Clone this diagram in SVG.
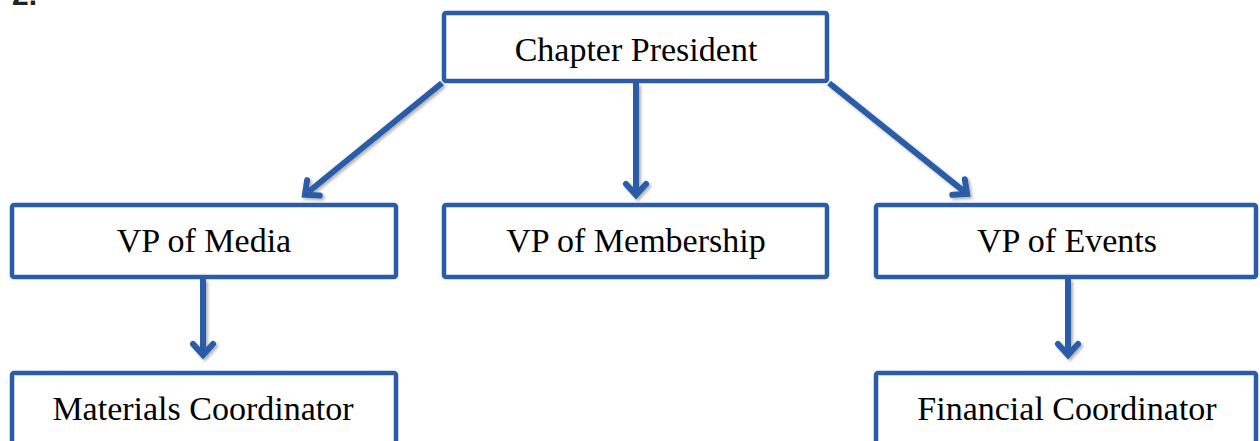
<svg xmlns="http://www.w3.org/2000/svg" width="1260" height="441" viewBox="0 0 1260 441">
  <style>
    .box { fill: #ffffff; stroke: #2a5ca7; stroke-width: 4.5; }
    .label { font-family: "Liberation Serif", "Times New Roman", serif; font-size: 34px; fill: #000000; text-anchor: middle; }
    .num { font-family: "Liberation Sans", Arial, sans-serif; font-size: 30px; font-weight: bold; fill: #222222; }
    .link { stroke: #2a5ca7; stroke-width: 6; fill: none; marker-end: url(#chevron); }
  </style>
  <defs>
    <marker id="chevron" markerUnits="userSpaceOnUse" viewBox="-20 -16 30 32" refX="0" refY="0"
            markerWidth="30" markerHeight="32" orient="auto" overflow="visible">
      <path d="M-11,-10 L0,0 L-11,10" fill="none" stroke="#2a5ca7" stroke-width="6"
            stroke-linecap="round" stroke-linejoin="miter"/>
    </marker>
    <filter id="soft" x="-20%" y="-20%" width="140%" height="140%">
      <feDropShadow dx="2" dy="2" stdDeviation="1.5" flood-color="#000000" flood-opacity="0.3"/>
    </filter>
  </defs>

  <rect width="1260" height="441" fill="#ffffff"/>

  <text class="num" x="12" y="5">2.</text>

  <!-- connectors -->
  <g id="connectors" filter="url(#soft)">
    <line class="link" x1="442" y1="83" x2="304.9" y2="194.8"/>
    <line class="link" x1="636" y1="83" x2="636" y2="195"/>
    <line class="link" x1="829" y1="83" x2="967.1" y2="193.9"/>
    <line class="link" x1="203" y1="279" x2="203" y2="355"/>
    <line class="link" x1="1068" y1="279" x2="1068" y2="355"/>
  </g>

  <g id="chapter-president">
    <rect class="box" x="444" y="13" width="383" height="68" rx="2"/>
    <text class="label" x="636" y="61">Chapter President</text>
  </g>

  <g id="vp-media">
    <rect class="box" x="12" y="205" width="384" height="72" rx="2"/>
    <text class="label" x="204" y="252">VP of Media</text>
  </g>

  <g id="vp-membership">
    <rect class="box" x="444" y="205" width="383" height="72" rx="2"/>
    <text class="label" x="636" y="252">VP of Membership</text>
  </g>

  <g id="vp-events">
    <rect class="box" x="876" y="205" width="380" height="72" rx="2"/>
    <text class="label" x="1067" y="252">VP of Events</text>
  </g>

  <g id="materials-coordinator">
    <rect class="box" x="12" y="373" width="384" height="100" rx="2"/>
    <text class="label" x="203" y="420">Materials Coordinator</text>
  </g>

  <g id="financial-coordinator">
    <rect class="box" x="876" y="373" width="380" height="100" rx="2"/>
    <text class="label" x="1067" y="420">Financial Coordinator</text>
  </g>
</svg>
